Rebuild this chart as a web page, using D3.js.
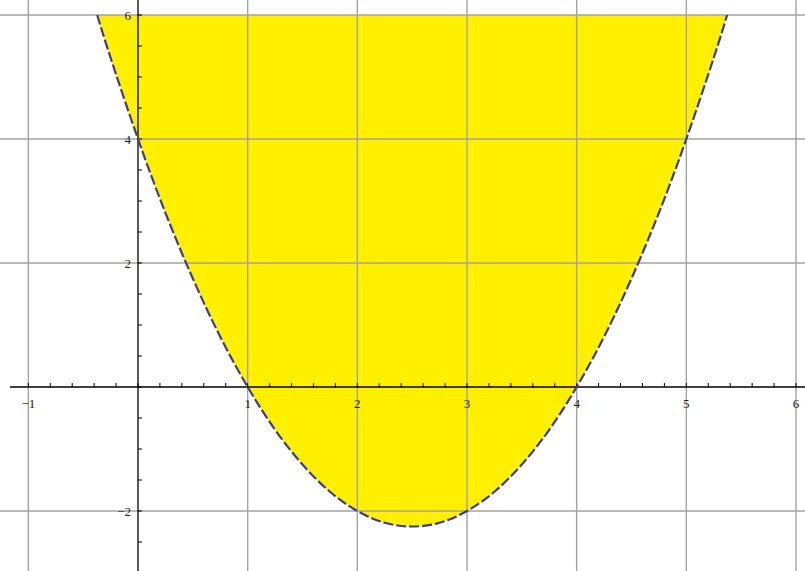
<!DOCTYPE html>
<html><head><meta charset="utf-8">
<script src="https://cdn.jsdelivr.net/npm/d3@7"></script>
<style>body{margin:0;background:#fff}svg{display:block}</style>
</head><body><svg id="c" width="805" height="571"></svg>
<script>
// Boundary curve points
const curveX = [-0.372, -0.25, 0, 0.25, 0.5, 0.75, 1, 1.25, 1.5, 1.75, 2, 2.25, 2.5, 2.75, 3, 3.25, 3.5, 3.75, 4, 4.25, 4.5, 4.75, 5, 5.25, 5.372];
const curveY = [6, 5.31, 4, 2.81, 1.75, 0.81, 0, -0.69, -1.25, -1.69, -2, -2.19, -2.25, -2.19, -2, -1.69, -1.25, -0.69, 0, 0.81, 1.75, 2.81, 4, 5.31, 6];
const xTicks = [-1, 1, 2, 3, 4, 5, 6];
const xTickLabels = ["\u22121", "1", "2", "3", "4", "5", "6"];
const yTicks = [-2, 2, 4, 6];
const yTickLabels = ["\u22122", "2", "4", "6"];
const xGrid = [-1, 1, 2, 3, 4, 5, 6];
const yGrid = [-2, 2, 4, 6];

const W = 805, H = 571;
const x = d3.scaleLinear().domain([0, 6]).range([138, 796]);
const y = d3.scaleLinear().domain([0, 6]).range([387, 15]);
const svg = d3.select("#c");

const pts = curveX.map((v, i) => [v, curveY[i]]);

// fill region above the curve
svg.append("path")
  .datum(pts)
  .attr("fill", "#fff000")
  .attr("d", d3.area().x(d => x(d[0])).y0(y(6)).y1(d => y(d[1])).curve(d3.curveNatural));

// grid lines
const grid = svg.append("g").attr("stroke", "#a3a3a3").attr("stroke-width", 1.4);
grid.selectAll("line.v").data(xGrid).join("line")
  .attr("x1", d => x(d)).attr("x2", d => x(d)).attr("y1", 0).attr("y2", H);
grid.selectAll("line.h").data(yGrid).join("line")
  .attr("y1", d => y(d)).attr("y2", d => y(d)).attr("x1", 0).attr("x2", W);

// x axis
const xAxisG = svg.append("g").attr("transform", `translate(0,${y(0)})`);
xAxisG.append("line").attr("x1", 10).attr("x2", W).attr("stroke", "#000").attr("stroke-width", 1.3);
const xMinor = d3.range(-55, 305).map(i => i / 50).filter(v => Math.abs(v * 5 - Math.round(v * 5)) < 1e-6 && v >= -1.1 && v <= 6);
xAxisG.selectAll("line.mt").data(xMinor).join("line")
  .attr("x1", d => x(d)).attr("x2", d => x(d)).attr("y1", 0).attr("y2", -4)
  .attr("stroke", "#000").attr("stroke-width", 1);
xAxisG.selectAll("text").data(xTicks).join("text")
  .attr("x", d => x(d)).attr("y", 21)
  .attr("text-anchor", "middle")
  .attr("font-family", "Liberation Serif, serif").attr("font-size", 13).attr("fill", "#222")
  .text((d, i) => xTickLabels[i]);

// y axis
const yAxisG = svg.append("g").attr("transform", `translate(${x(0)},0)`);
yAxisG.append("line").attr("y1", 0).attr("y2", H).attr("stroke", "#000").attr("stroke-width", 1.3);
const yMinor = d3.range(-6, 13).map(i => i / 2);
yAxisG.selectAll("line.mt").data(yMinor).join("line")
  .attr("y1", d => y(d)).attr("y2", d => y(d)).attr("x1", 0).attr("x2", 4)
  .attr("stroke", "#000").attr("stroke-width", 1);
yAxisG.selectAll("text").data(yTicks).join("text")
  .attr("x", -7).attr("y", d => y(d))
  .attr("text-anchor", "end").attr("dominant-baseline", "central")
  .attr("font-family", "Liberation Serif, serif").attr("font-size", 13).attr("fill", "#222")
  .text((d, i) => yTickLabels[i]);

// dashed boundary
svg.append("path")
  .datum(pts)
  .attr("fill", "none")
  .attr("stroke", "#3b3b9e")
  .attr("stroke-width", 2.2)
  .attr("stroke-dasharray", "10,3")
  .attr("d", d3.line().x(d => x(d[0])).y(d => y(d[1])).curve(d3.curveNatural));
</script>
</body></html>
